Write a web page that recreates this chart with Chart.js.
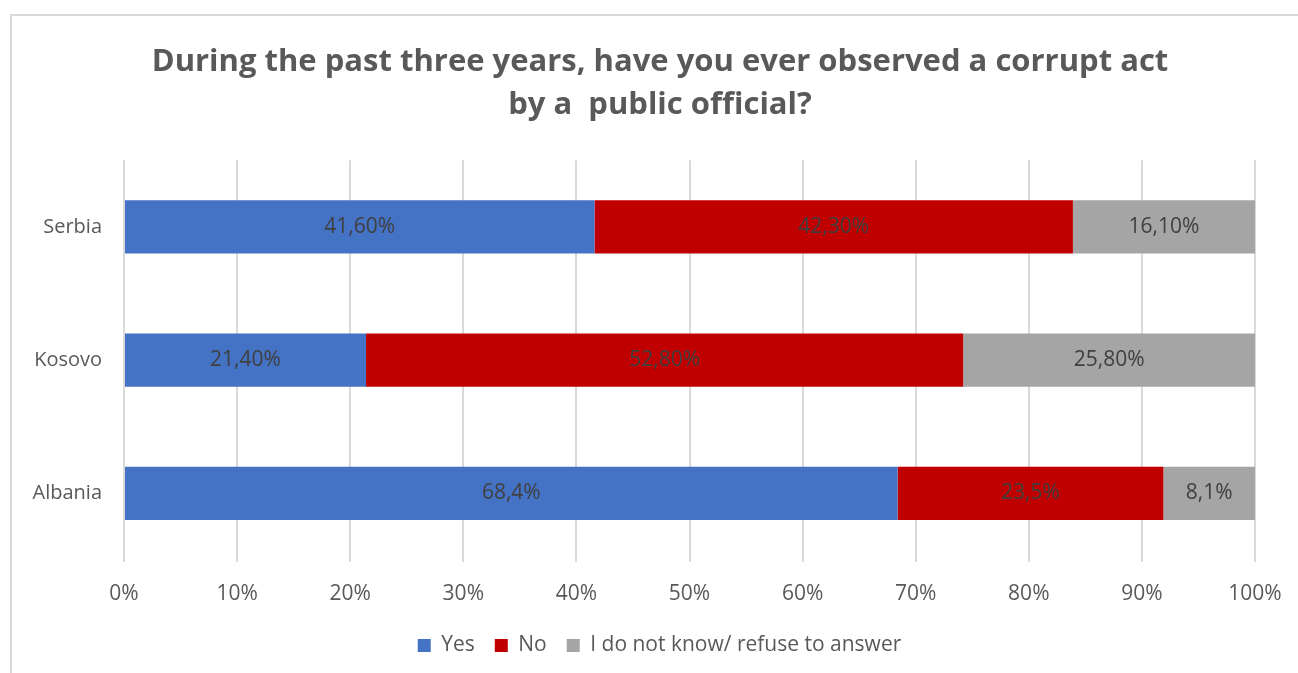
<!DOCTYPE html>
<html>
<head>
<meta charset="utf-8">
<script src="https://cdn.jsdelivr.net/npm/chart.js@4"></script>
<style>
  html, body { margin: 0; padding: 0; background: #fff; }
  #wrap { position: relative; width: 1298px; height: 673px; overflow: hidden; }
  #frame {
    position: absolute; left: 10px; top: 14px; width: 1400px; height: 800px;
    border-top: 2px solid #d9d9d9; border-left: 2px solid #d9d9d9;
  }
  #chart { position: absolute; left: 0; top: 0; }
</style>
</head>
<body>
<div id="wrap">
  <div id="frame"></div>
  <canvas id="chart" width="1298" height="673"></canvas>
</div>
<script>
  const countries = ["Serbia", "Kosovo", "Albania"];
  const yesValues = [41.6, 21.4, 68.4];
  const noValues = [42.3, 52.8, 23.5];
  const dontKnowValues = [16.1, 25.8, 8.1];
  // decimals shown in the value labels of each row
  const labelDecimals = [2, 2, 1];
  const xTicks = [0, 10, 20, 30, 40, 50, 60, 70, 80, 90, 100];

  const blue = "#4472c4";
  const red = "#c00000";
  const grey = "#a5a5a5";
  const textGrey = "#595959";
  const font = "'Open Sans', sans-serif";

  // value labels centred inside each bar segment
  const segmentLabels = {
    id: "segmentLabels",
    afterLayout(chart) {
      // title and legend sit a little right of the canvas centre
      chart.titleBlock.left += 55;
      chart.legend.left += 54;
    },
    afterDatasetsDraw(chart) {
      const ctx = chart.ctx;
      ctx.save();
      ctx.font = "21px " + font;
      ctx.fillStyle = "#404040";
      ctx.textAlign = "center";
      ctx.textBaseline = "middle";
      chart.data.datasets.forEach((ds, i) => {
        chart.getDatasetMeta(i).data.forEach((bar, j) => {
          const txt = ds.data[j].toFixed(labelDecimals[j]).replace(".", ",") + "%";
          ctx.fillText(txt, (bar.x + bar.base) / 2, bar.y);
        });
      });
      ctx.restore();
    }
  };

  new Chart("chart", {
    type: "bar",
    data: {
      labels: countries,
      datasets: [
        { label: "Yes", data: yesValues, backgroundColor: blue },
        { label: "No", data: noValues, backgroundColor: red },
        { label: "I do not know/ refuse to answer", data: dontKnowValues, backgroundColor: grey }
      ]
    },
    options: {
      indexAxis: "y",
      responsive: false,
      animation: false,
      layout: { padding: { left: 10, right: 43, bottom: 7 } },
      datasets: { bar: { barPercentage: 0.4, categoryPercentage: 1 } },
      scales: {
        x: {
          stacked: true,
          min: 0,
          max: 100,
          clip: false,
          afterBuildTicks: (axis) => { axis.ticks = xTicks.map(v => ({ value: v })); },
          afterFit: (axis) => {
            axis.height = 55;
            axis.paddingLeft = 0;
            axis.paddingRight = 0;
          },
          grid: { color: "#d9d9d9", lineWidth: 2, tickLength: 2 },
          border: { display: false },
          ticks: {
            color: textGrey,
            font: { family: font, size: 21 },
            padding: 19,
            callback: (v) => v + "%"
          }
        },
        y: {
          stacked: true,
          afterFit: (axis) => { axis.width = 114; },
          grid: { display: false, drawTicks: false },
          border: { display: false },
          ticks: { color: textGrey, font: { family: font, size: 20 }, padding: 22 }
        }
      },
      plugins: {
        title: {
          display: true,
          text: ["During the past three years, have you ever observed a corrupt act", "by a  public official?"],
          color: textGrey,
          font: { family: font, size: 31, weight: "bold", lineHeight: 1.39 },
          padding: { top: 41, bottom: 33 }
        },
        legend: {
          position: "bottom",
          labels: {
            color: textGrey,
            font: { family: font, size: 21 },
            boxWidth: 13,
            boxHeight: 13,
            padding: 20
          }
        },
        tooltip: { enabled: false }
      }
    },
    plugins: [segmentLabels]
  });
</script>
</body>
</html>
